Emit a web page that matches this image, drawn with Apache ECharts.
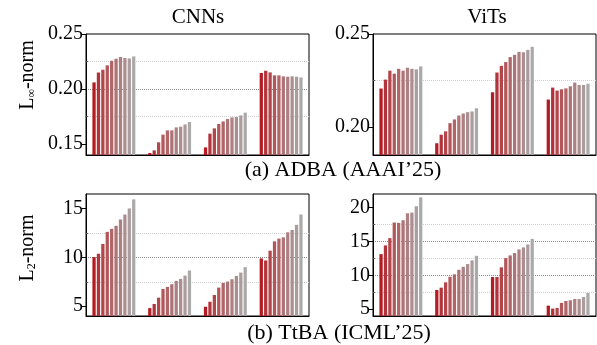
<!DOCTYPE html>
<html>
<head>
<meta charset="utf-8">
<script src="https://cdn.jsdelivr.net/npm/echarts@6/dist/echarts.min.js"></script>
<style>
  html, body { margin: 0; padding: 0; background: #fff; }
  #chart { width: 597px; height: 345px; }
</style>
</head>
<body>
<div id="chart"></div>
<script>
var groups = ['G1', 'G2', 'G3', 'G4'];
// 10 bars per group, dark red -> gray
var colors = ['#b41c22', '#b3333a', '#b2464b', '#b1575a', '#b06568',
              '#ae7376', '#ad8183', '#ac8e90', '#ab9c9d', '#aaaaaa'];

// rows = groups, columns = the 10 bars
var adbaCnn = [
  [0.2060, 0.2150, 0.2175, 0.2215, 0.2257, 0.2275, 0.2291, 0.2282, 0.2278, 0.2296],
  [0.1418, 0.1442, 0.1515, 0.1585, 0.1624, 0.1624, 0.1651, 0.1657, 0.1678, 0.1700],
  [0.1469, 0.1594, 0.1642, 0.1682, 0.1705, 0.1727, 0.1742, 0.1745, 0.1760, 0.1785],
  [0.2146, 0.2166, 0.2151, 0.2124, 0.2124, 0.2115, 0.2112, 0.2115, 0.2112, 0.2105]
];
var adbaVit = [
  [0.2207, 0.2255, 0.2303, 0.2287, 0.2313, 0.2303, 0.2319, 0.2313, 0.2310, 0.2326],
  [0.1913, 0.1959, 0.1977, 0.2021, 0.2041, 0.2062, 0.2073, 0.2080, 0.2084, 0.2101],
  [0.2187, 0.2293, 0.2329, 0.2349, 0.2376, 0.2388, 0.2404, 0.2402, 0.2415, 0.2431],
  [0.2148, 0.2212, 0.2196, 0.2203, 0.2208, 0.2219, 0.2239, 0.2226, 0.2226, 0.2233]
];
var ttbaCnn = [
  [10.04, 10.38, 11.38, 12.62, 12.93, 13.24, 13.89, 14.40, 15.02, 15.95],
  [4.81, 5.23, 5.88, 6.77, 6.98, 7.26, 7.60, 7.80, 8.14, 8.66],
  [4.95, 5.46, 6.15, 6.91, 7.39, 7.53, 7.77, 8.11, 8.45, 9.01],
  [9.90, 9.69, 10.69, 11.65, 11.93, 12.06, 12.58, 12.82, 13.34, 14.40]
];
var ttbaVit = [
  [13.13, 14.41, 15.49, 17.79, 17.74, 18.13, 19.16, 19.26, 20.19, 21.51],
  [7.84, 8.18, 8.97, 9.79, 10.15, 10.82, 11.26, 11.66, 12.21, 12.88],
  [9.75, 9.75, 11.18, 12.54, 12.94, 13.28, 13.82, 14.12, 14.56, 15.38],
  [5.53, 5.09, 5.19, 5.93, 6.22, 6.32, 6.51, 6.51, 6.81, 7.40]
];

// y axis ranges and tick values
var adbaCnnY = { min: 0.14, max: 0.25, major: [0.15, 0.20, 0.25], minor: [0.175, 0.225], digits: 2 };
var adbaVitY = { min: 0.185, max: 0.25, major: [0.20, 0.25], minor: [0.225], digits: 2 };
var ttbaCnnY = { min: 4, max: 16.5, major: [5, 10, 15], minor: [7.5, 12.5], digits: 0 };
var ttbaVitY = { min: 4, max: 22, major: [5, 10, 15, 20], minor: [7.5, 12.5, 17.5], digits: 0 };

var FONT = '"Liberation Serif", "Times New Roman", serif';

var panels = [
  { data: adbaCnn, y: adbaCnnY, grid: { left: 86, top: 34, width: 223, height: 121 } },
  { data: adbaVit, y: adbaVitY, grid: { left: 373, top: 34, width: 223, height: 121 } },
  { data: ttbaCnn, y: ttbaCnnY, grid: { left: 86, top: 194, width: 223, height: 122 } },
  { data: ttbaVit, y: ttbaVitY, grid: { left: 373, top: 194, width: 223, height: 122 } }
];

var grids = [], xAxes = [], yAxes = [], series = [];
panels.forEach(function (p, g) {
  grids.push({
    left: p.grid.left, top: p.grid.top, width: p.grid.width, height: p.grid.height,
    show: true, borderColor: '#000', borderWidth: 1, backgroundColor: 'transparent'
  });
  // main x axis: ticks at group centres
  xAxes.push({
    type: 'category', gridIndex: g, data: groups,
    axisLine: { lineStyle: { color: '#000', width: 1 } },
    axisTick: { alignWithLabel: true, length: 4, lineStyle: { color: '#333' } },
    axisLabel: { show: false },
    splitLine: { show: false }
  });
  // second x axis: short ticks at group boundaries
  xAxes.push({
    type: 'category', gridIndex: g, data: groups, position: 'bottom',
    axisLine: { show: false },
    axisTick: { length: 2, lineStyle: { color: '#333' } },
    axisLabel: { show: false },
    splitLine: { show: false }
  });
  var d = p.y.digits;
  yAxes.push({
    type: 'value', gridIndex: g, position: 'left', min: p.y.min, max: p.y.max,
    axisLine: { show: true, lineStyle: { color: '#000', width: 1 } },
    axisTick: { show: true, length: 4, customValues: p.y.major, lineStyle: { color: '#000' } },
    axisLabel: {
      customValues: p.y.major, margin: 3, color: '#000', fontSize: 20, fontFamily: FONT,
      formatter: function (v) { return v.toFixed(d); }
    },
    splitLine: { show: true, showMaxLine: false, showMinLine: false,
                 lineStyle: { type: 'dotted', color: '#8c8c8c', width: 1 } }
  });
  yAxes.push({
    type: 'value', gridIndex: g, position: 'left', min: p.y.min, max: p.y.max,
    axisLine: { show: false },
    axisTick: { show: true, inside: true, length: 2, customValues: p.y.minor, lineStyle: { color: '#555' } },
    axisLabel: { show: false },
    splitLine: { show: true, lineStyle: { type: 'dotted', color: '#d0d0d0', width: 1 } }
  });
  for (var k = 0; k < colors.length; k++) {
    series.push({
      type: 'bar', xAxisIndex: 2 * g, yAxisIndex: 2 * g,
      data: p.data.map(function (row) { return row[k]; }),
      itemStyle: { color: colors[k] },
      barGap: '35%', barCategoryGap: '23%',
      silent: true
    });
  }
});

function label(text, x, y, size) {
  return {
    type: 'text', x: x, y: y, silent: true,
    style: { text: text, fill: '#000', fontSize: size, fontFamily: FONT,
             align: 'center', verticalAlign: 'middle',
             textAlign: 'center', textVerticalAlign: 'middle' }
  };
}
function yName(sub, x, y) {
  return {
    type: 'text', x: x, y: y, rotation: Math.PI / 2, silent: true,
    style: {
      text: '{a|L}{s|' + sub + '}{a|-norm}',
      align: 'center', verticalAlign: 'middle',
      textAlign: 'center', textVerticalAlign: 'middle',
      rich: {
        a: { fontSize: 20, fontFamily: FONT, fill: '#000', color: '#000', verticalAlign: 'bottom', lineHeight: 22 },
        s: { fontSize: 12, fontFamily: FONT, fill: '#000', color: '#000', verticalAlign: 'bottom', lineHeight: 18 }
      }
    }
  };
}

var chart = echarts.init(document.getElementById('chart'));
chart.setOption({
  animation: false,
  grid: grids,
  xAxis: xAxes,
  yAxis: yAxes,
  series: series,
  graphic: [
    label('CNNs', 198, 17, 21),
    label('ViTs', 487, 17, 21),
    label('(a) ADBA (AAAI\u201925)', 343, 170, 22),
    label('(b) TtBA (ICML\u201925)', 339, 333, 22),
    yName('\u221e', 27, 75),
    yName('2', 27, 248)
  ]
});
</script>
</body>
</html>
